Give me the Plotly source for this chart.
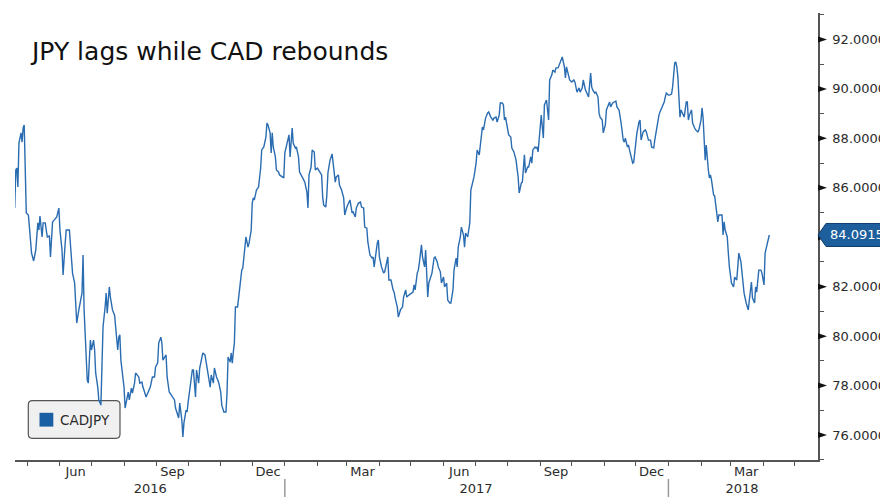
import plotly.graph_objects as go
import pandas as pd

title_text = "JPY lags while CAD rebounds"
series_name = "CADJPY"

dates = [
    "2016-04-19", "2016-04-20", "2016-04-21", "2016-04-22", "2016-04-23", "2016-04-25", "2016-04-26", "2016-04-27", "2016-04-28", "2016-04-30",
    "2016-05-02", "2016-05-04", "2016-05-05", "2016-05-06", "2016-05-07", "2016-05-09", "2016-05-11", "2016-05-12", "2016-05-13", "2016-05-15", "2016-05-16", "2016-05-18", "2016-05-20", "2016-05-22", "2016-05-23", "2016-05-25", "2016-05-27", "2016-05-29", "2016-05-31",
    "2016-06-01", "2016-06-03", "2016-06-04", "2016-06-06", "2016-06-07", "2016-06-10", "2016-06-11", "2016-06-13", "2016-06-15", "2016-06-17", "2016-06-19", "2016-06-21", "2016-06-22", "2016-06-23", "2016-06-24", "2016-06-27", "2016-06-28", "2016-06-29", "2016-06-30",
    "2016-07-01", "2016-07-03", "2016-07-04", "2016-07-05", "2016-07-07", "2016-07-08", "2016-07-10", "2016-07-11", "2016-07-12", "2016-07-14", "2016-07-15", "2016-07-16", "2016-07-18", "2016-07-19", "2016-07-21", "2016-07-23", "2016-07-24", "2016-07-26", "2016-07-27", "2016-07-28", "2016-07-29",
    "2016-08-01", "2016-08-02", "2016-08-04", "2016-08-05", "2016-08-06", "2016-08-08", "2016-08-09", "2016-08-11", "2016-08-12", "2016-08-15", "2016-08-16", "2016-08-18", "2016-08-19", "2016-08-22", "2016-08-24", "2016-08-26", "2016-08-28", "2016-08-30", "2016-08-31",
    "2016-09-02", "2016-09-03", "2016-09-05", "2016-09-06", "2016-09-07", "2016-09-10", "2016-09-11", "2016-09-13", "2016-09-15", "2016-09-18", "2016-09-19", "2016-09-22", "2016-09-23", "2016-09-25", "2016-09-26", "2016-09-27", "2016-09-29", "2016-09-30",
    "2016-10-01", "2016-10-03", "2016-10-05", "2016-10-06", "2016-10-08", "2016-10-09", "2016-10-11", "2016-10-12", "2016-10-14", "2016-10-15", "2016-10-17", "2016-10-19", "2016-10-20", "2016-10-22", "2016-10-23", "2016-10-25", "2016-10-26", "2016-10-28", "2016-10-30",
    "2016-11-01", "2016-11-02", "2016-11-04", "2016-11-06", "2016-11-07", "2016-11-08", "2016-11-10", "2016-11-11", "2016-11-12", "2016-11-13", "2016-11-14", "2016-11-15", "2016-11-17", "2016-11-18", "2016-11-20", "2016-11-21", "2016-11-22", "2016-11-24", "2016-11-25", "2016-11-27", "2016-11-28", "2016-11-30",
    "2016-12-01", "2016-12-02", "2016-12-03", "2016-12-04", "2016-12-05", "2016-12-07", "2016-12-09", "2016-12-10", "2016-12-12", "2016-12-14", "2016-12-15", "2016-12-16", "2016-12-18", "2016-12-19", "2016-12-20", "2016-12-21", "2016-12-23", "2016-12-24", "2016-12-26", "2016-12-27", "2016-12-29", "2016-12-31",
    "2017-01-01", "2017-01-03", "2017-01-05", "2017-01-06", "2017-01-07", "2017-01-08", "2017-01-09", "2017-01-11", "2017-01-12", "2017-01-14", "2017-01-15", "2017-01-17", "2017-01-18", "2017-01-20", "2017-01-22", "2017-01-23", "2017-01-24", "2017-01-26", "2017-01-27", "2017-01-29", "2017-01-30",
    "2017-02-01", "2017-02-03", "2017-02-05", "2017-02-06", "2017-02-07", "2017-02-09", "2017-02-10", "2017-02-11", "2017-02-13", "2017-02-15", "2017-02-16", "2017-02-18", "2017-02-19", "2017-02-21", "2017-02-22", "2017-02-24", "2017-02-26", "2017-02-27",
    "2017-03-01", "2017-03-03", "2017-03-04", "2017-03-06", "2017-03-07", "2017-03-09", "2017-03-10", "2017-03-12", "2017-03-14", "2017-03-15", "2017-03-17", "2017-03-18", "2017-03-20", "2017-03-21", "2017-03-23", "2017-03-25", "2017-03-26", "2017-03-27", "2017-03-29", "2017-03-30", "2017-03-31",
    "2017-04-01", "2017-04-03", "2017-04-05", "2017-04-06", "2017-04-08", "2017-04-09", "2017-04-10", "2017-04-12", "2017-04-14", "2017-04-15", "2017-04-16", "2017-04-18", "2017-04-19", "2017-04-21", "2017-04-23", "2017-04-24", "2017-04-26", "2017-04-27", "2017-04-29",
    "2017-05-01", "2017-05-03", "2017-05-04", "2017-05-05", "2017-05-07", "2017-05-08", "2017-05-09", "2017-05-11", "2017-05-12", "2017-05-14", "2017-05-15", "2017-05-17", "2017-05-18", "2017-05-20", "2017-05-21", "2017-05-23", "2017-05-24", "2017-05-26", "2017-05-27", "2017-05-29", "2017-05-30",
    "2017-06-01", "2017-06-02", "2017-06-04", "2017-06-05", "2017-06-07", "2017-06-08", "2017-06-10", "2017-06-11", "2017-06-13", "2017-06-14", "2017-06-15", "2017-06-17", "2017-06-18", "2017-06-20", "2017-06-21", "2017-06-22", "2017-06-24", "2017-06-26", "2017-06-27", "2017-06-29", "2017-06-30",
    "2017-07-02", "2017-07-03", "2017-07-05", "2017-07-07", "2017-07-08", "2017-07-09", "2017-07-11", "2017-07-13", "2017-07-14", "2017-07-16", "2017-07-18", "2017-07-19", "2017-07-21", "2017-07-22", "2017-07-24", "2017-07-25", "2017-07-27", "2017-07-28", "2017-07-29", "2017-07-30",
    "2017-08-01", "2017-08-02", "2017-08-04", "2017-08-05", "2017-08-07", "2017-08-08", "2017-08-09", "2017-08-11", "2017-08-12", "2017-08-14", "2017-08-15", "2017-08-17", "2017-08-18", "2017-08-20", "2017-08-21", "2017-08-23", "2017-08-24", "2017-08-25", "2017-08-27", "2017-08-28", "2017-08-29", "2017-08-30", "2017-08-31",
    "2017-09-02", "2017-09-03", "2017-09-04", "2017-09-05", "2017-09-07", "2017-09-09", "2017-09-10", "2017-09-12", "2017-09-13", "2017-09-15", "2017-09-16", "2017-09-18", "2017-09-20", "2017-09-22", "2017-09-24", "2017-09-25", "2017-09-26", "2017-09-28", "2017-09-29",
    "2017-10-01", "2017-10-03", "2017-10-04", "2017-10-06", "2017-10-08", "2017-10-09", "2017-10-11", "2017-10-12", "2017-10-14", "2017-10-16", "2017-10-17", "2017-10-19", "2017-10-20", "2017-10-21", "2017-10-23", "2017-10-24", "2017-10-26", "2017-10-27", "2017-10-28", "2017-10-30", "2017-10-31",
    "2017-11-02", "2017-11-03", "2017-11-06", "2017-11-07", "2017-11-09", "2017-11-10", "2017-11-12", "2017-11-13", "2017-11-15", "2017-11-17", "2017-11-19", "2017-11-20", "2017-11-21", "2017-11-23", "2017-11-24", "2017-11-25", "2017-11-27", "2017-11-28", "2017-11-29", "2017-11-30",
    "2017-12-02", "2017-12-04", "2017-12-05", "2017-12-06", "2017-12-08", "2017-12-10", "2017-12-11", "2017-12-13", "2017-12-15", "2017-12-16", "2017-12-18", "2017-12-19", "2017-12-21", "2017-12-23", "2017-12-24", "2017-12-26", "2017-12-28", "2017-12-29", "2017-12-30",
    "2018-01-01", "2018-01-02", "2018-01-04", "2018-01-05", "2018-01-07", "2018-01-08", "2018-01-09", "2018-01-10", "2018-01-11", "2018-01-12", "2018-01-13", "2018-01-15", "2018-01-16", "2018-01-18", "2018-01-19", "2018-01-20", "2018-01-21", "2018-01-23", "2018-01-24", "2018-01-26", "2018-01-27", "2018-01-29", "2018-01-30",
    "2018-02-01", "2018-02-02", "2018-02-03", "2018-02-05", "2018-02-06", "2018-02-07", "2018-02-08", "2018-02-09", "2018-02-10", "2018-02-11", "2018-02-13", "2018-02-14", "2018-02-16", "2018-02-17", "2018-02-18", "2018-02-21", "2018-02-22", "2018-02-23", "2018-02-24", "2018-02-26", "2018-02-27", "2018-02-28",
    "2018-03-02", "2018-03-04", "2018-03-05", "2018-03-07", "2018-03-08", "2018-03-09", "2018-03-11", "2018-03-13", "2018-03-14", "2018-03-16", "2018-03-18", "2018-03-19", "2018-03-21", "2018-03-22", "2018-03-24", "2018-03-25", "2018-03-26", "2018-03-28", "2018-03-30", "2018-03-31",
    "2018-04-02", "2018-04-03", "2018-04-04", "2018-04-06", "2018-04-07",
]

values = [
    85.18, 86.72, 86.80, 86.03, 87.81, 88.22, 87.85, 88.42, 88.54, 84.98,
    84.90, 83.61, 83.36, 83.20, 83.04, 83.48, 84.58, 84.29, 84.86, 84.01, 84.58, 84.58, 84.01, 84.05, 83.20, 84.62, 84.70, 84.82, 85.18,
    84.29, 83.48, 82.47, 83.77, 84.29, 84.29, 83.77, 82.55, 82.15, 80.53, 81.06, 81.46, 81.74, 83.28, 81.06, 78.22, 78.10, 79.03, 79.84,
    79.44, 79.84, 79.44, 78.51, 77.94, 77.42, 77.21, 78.91, 80.37, 81.18, 81.74, 80.93, 81.99, 81.58, 81.06, 80.85, 80.25, 79.44, 79.96, 80.05, 79.03,
    77.94, 77.09, 77.54, 77.74, 77.42, 77.90, 77.70, 78.10, 78.51, 78.35, 78.10, 78.14, 77.94, 77.54, 77.74, 77.94, 78.35, 78.35, 78.75,
    78.91, 79.72, 79.96, 79.72, 79.03, 79.24, 78.35, 77.74, 77.62, 77.42, 77.09, 76.69, 77.29, 76.61, 75.92, 76.49, 77.01, 76.93,
    77.33, 77.90, 78.63, 78.63, 77.54, 78.63, 78.10, 78.71, 79.16, 79.32, 79.24, 78.71, 78.35, 77.94, 78.43, 78.10, 78.71, 78.35, 78.14,
    77.74, 77.21, 76.93, 76.93, 77.70, 79.16, 78.95, 79.32, 78.91, 79.36, 79.72, 81.18, 81.18, 81.54, 82.27, 82.67, 82.75, 83.48, 84.01, 83.60, 83.77, 84.29,
    85.38, 85.59, 85.51, 85.71, 85.91, 86.03, 86.80, 87.53, 87.65, 88.05, 88.62, 88.54, 88.22, 87.41, 88.22, 87.65, 87.25, 86.72, 86.64, 86.52, 86.44, 86.40,
    87.41, 87.81, 88.14, 87.25, 88.01, 88.42, 87.81, 87.61, 87.65, 87.25, 86.64, 86.44, 86.40, 86.23, 85.83, 85.18, 86.52, 86.84, 87.53, 87.45, 86.72,
    86.80, 86.64, 86.52, 85.63, 85.30, 85.22, 85.71, 86.60, 87.12, 87.37, 87.00, 86.23, 86.44, 86.52, 86.11, 85.91, 85.59, 84.90,
    85.22, 85.42, 85.51, 84.98, 85.02, 84.82, 85.18, 85.38, 85.42, 85.22, 85.18, 84.41, 84.37, 83.81, 83.28, 83.16, 83.20, 82.80, 83.48, 83.77, 83.89,
    83.20, 82.80, 82.55, 82.60, 82.96, 83.20, 82.27, 82.27, 81.87, 81.78, 81.54, 81.18, 80.77, 81.06, 81.18, 81.58, 81.87, 81.58, 81.66,
    81.74, 81.78, 82.07, 81.87, 82.55, 82.67, 82.96, 83.69, 83.20, 82.80, 83.48, 81.58, 82.15, 82.39, 82.55, 83.16, 83.20, 83.00, 82.80, 82.60, 82.15,
    82.39, 81.99, 82.15, 81.46, 81.34, 81.34, 81.87, 82.67, 83.16, 82.80, 83.60, 84.01, 84.41, 84.09, 83.60, 84.17, 84.01, 84.58, 85.91, 86.23, 86.44,
    87.00, 87.53, 87.33, 88.01, 88.46, 88.34, 88.82, 89.03, 89.07, 88.86, 88.74, 88.82, 88.86, 88.66, 88.94, 89.43, 89.43, 89.35, 88.74, 88.86,
    88.26, 88.14, 88.05, 87.61, 87.45, 87.33, 87.12, 86.44, 85.79, 86.19, 86.23, 87.33, 86.60, 86.84, 86.84, 87.25, 87.00, 87.53, 87.65, 87.61, 87.65, 87.45, 88.01,
    88.94, 88.46, 88.01, 89.35, 89.55, 88.74, 90.36, 90.56, 90.76, 90.68, 90.85, 90.85, 91.05, 91.29, 90.89, 90.44, 90.89, 90.48, 90.36,
    90.28, 90.36, 90.28, 89.87, 90.04, 89.87, 90.04, 90.36, 89.96, 89.75, 89.67, 90.64, 90.08, 89.96, 89.83, 89.87, 89.67, 89.02, 88.86, 88.74, 88.22,
    88.54, 89.15, 89.47, 89.27, 89.43, 89.47, 89.51, 89.27, 89.15, 88.62, 87.93, 87.85, 88.01, 87.65, 87.73, 87.53, 87.12, 87.00, 87.04, 87.41,
    88.22, 88.66, 88.74, 87.93, 88.26, 88.34, 88.26, 87.93, 87.93, 87.65, 87.61, 87.93, 88.54, 88.94, 89.07, 89.27, 89.47, 89.67, 89.83,
    89.75, 89.75, 89.79, 90.08, 91.05, 91.09, 90.89, 90.48, 89.67, 88.86, 89.15, 88.94, 88.86, 89.47, 89.47, 88.74, 88.94, 89.15, 88.62, 88.42, 88.34, 88.26, 88.34,
    88.74, 89.23, 88.82, 87.12, 87.73, 87.04, 86.72, 86.40, 86.52, 86.31, 85.71, 85.67, 84.98, 84.62, 84.90, 84.90, 84.09, 84.62, 84.29, 84.01, 83.36, 82.80,
    82.15, 81.99, 82.39, 82.27, 82.80, 83.36, 83.00, 82.27, 81.74, 81.34, 81.06, 81.46, 82.19, 81.54, 81.34, 81.99, 81.78, 82.67, 82.67, 82.55,
    82.07, 83.36, 83.56, 83.89, 84.0915,
]

month_label_dates = ["2016-06-16", "2016-09-16", "2016-12-16", "2017-03-16",
                     "2017-06-16", "2017-09-16", "2017-12-16", "2018-03-16"]
month_labels = ["Jun", "Sep", "Dec", "Mar", "Jun", "Sep", "Dec", "Mar"]
year_label_dates = ["2016-08-26", "2017-07-02", "2018-03-12"]
year_labels = ["2016", "2017", "2018"]
year_breaks = ["2017-01-01", "2018-01-01"]
month_ticks = pd.date_range("2016-05-01", "2018-05-01", freq="MS")

x_range = ["2016-04-19 06:00", "2018-05-23 08:00"]
y_range = [74.99, 93.07]
y_major = [76, 78, 80, 82, 84, 86, 88, 90, 92]

line_color = "#2a6cb1"
axis_color = "#555555"
text_color = "#2b2b2b"
font_family = "DejaVu Sans"

last_value = values[-1]
# the last-value tag covers the tick label it sits on, so that label is left blank
y_tick_text = [f"{v:.4f}" if abs(v - last_value) > 0.6 else "" for v in y_major]

fig = go.Figure()
fig.add_trace(go.Scatter(
    x=dates, y=values, mode="lines", name=series_name,
    line=dict(color=line_color, width=1.4), showlegend=False, hoverinfo="skip",
))
# carrier traces so the label axes are drawn (nothing visible)
fig.add_trace(go.Scatter(x=month_label_dates, y=[None] * len(month_label_dates), xaxis="x2",
                         mode="markers", marker=dict(opacity=0), showlegend=False, hoverinfo="skip"))
fig.add_trace(go.Scatter(x=year_label_dates, y=[None] * len(year_label_dates), xaxis="x3",
                         mode="markers", marker=dict(opacity=0), showlegend=False, hoverinfo="skip"))

shapes = []
for v in y_major:
    shapes.append(dict(type="path", xref="paper", yref="y", xsizemode="pixel", ysizemode="pixel",
                       xanchor=1, yanchor=v, path="M0,3 L9,0 L0,-3 Z",
                       fillcolor="#111111", line=dict(width=0)))
for d in year_breaks:
    shapes.append(dict(type="line", xref="x", yref="paper", x0=d, x1=d, y0=-0.0425, y1=-0.085,
                       line=dict(color="#999999", width=1.5)))
shapes.append(dict(type="path", xref="paper", yref="y", xsizemode="pixel", ysizemode="pixel",
                   xanchor=1, yanchor=last_value,
                   path="M0,0 L8,11.5 L75,11.5 L75,-11.5 L8,-11.5 Z",
                   fillcolor="#1d5e9c", line=dict(color="#0e3d6b", width=1)))
shapes.append(dict(type="path", xref="paper", yref="paper", xsizemode="pixel", ysizemode="pixel",
                   xanchor=0, yanchor=0, layer="below",
                   path="M17.3,21.7 L101,21.7 Q105,21.7 105,25.7 L105,55.3 Q105,59.3 101,59.3 "
                        "L17.3,59.3 Q13.3,59.3 13.3,55.3 L13.3,25.7 Q13.3,21.7 17.3,21.7 Z",
                   fillcolor="#f0f0f0", line=dict(color="#555555", width=1.2)))
shapes.append(dict(type="rect", xref="paper", yref="paper", xsizemode="pixel", ysizemode="pixel",
                   xanchor=0, yanchor=0, x0=24.5, x1=38.3, y0=33.4, y1=47.2, layer="below",
                   fillcolor="#1a5fa3", line=dict(width=0)))

annotations = [
    dict(text=title_text, xref="paper", yref="paper", x=0.0205, y=0.913, xanchor="left", yanchor="middle",
         xshift=-3, showarrow=False, font=dict(family=font_family, size=25, color="#111111")),
    dict(text=f"{last_value:.4f}", xref="paper", yref="y", x=1, y=last_value, xanchor="left", yanchor="middle",
         xshift=10, showarrow=False, font=dict(family=font_family, size=13, color="#ffffff")),
    dict(text=series_name, xref="paper", yref="paper", x=0.0539, y=0.0906, xanchor="left", yanchor="middle",
         showarrow=False, font=dict(family=font_family, size=13.5, color=text_color)),
]

# the page puts the figure 8px from the top-left corner, so the figure is 8px smaller
fig.update_layout(
    width=880, height=489,
    margin=dict(l=7, r=70, t=5, b=37, autoexpand=False),
    paper_bgcolor="white", plot_bgcolor="white",
    font=dict(family=font_family, size=13, color=text_color),
    showlegend=False,
    xaxis=dict(type="date", range=x_range, tickmode="array", tickvals=month_ticks,
               ticks="outside", ticklen=4, tickwidth=1, tickcolor=axis_color, automargin=False,
               showticklabels=False, showline=True, linecolor=axis_color, linewidth=1.5,
               showgrid=False, zeroline=False),
    xaxis2=dict(type="date", overlaying="x", anchor="y", side="bottom", range=x_range,
                tickmode="array", tickvals=month_label_dates, ticktext=month_labels, automargin=False,
                ticks="", showline=False, showgrid=False, zeroline=False, ticklabelstandoff=2,
                tickfont=dict(family=font_family, size=13, color=text_color)),
    xaxis3=dict(type="date", overlaying="x", anchor="y", side="bottom", range=x_range,
                tickmode="array", tickvals=year_label_dates, ticktext=year_labels, automargin=False,
                ticks="", showline=False, showgrid=False, zeroline=False, ticklabelstandoff=19,
                tickfont=dict(family=font_family, size=13, color=text_color)),
    yaxis=dict(side="right", range=y_range, tickmode="array", tickvals=y_major, ticktext=y_tick_text,
               ticks="outside", ticklen=10, tickcolor="rgba(0,0,0,0)", automargin=False,
               minor=dict(ticks="outside", ticklen=4, tickwidth=1, tickcolor=axis_color, dtick=1, tick0=75,
                          showgrid=False),
               showline=True, linecolor=axis_color, linewidth=1.5, showgrid=False, zeroline=False,
               tickfont=dict(family=font_family, size=13, color=text_color)),
    shapes=shapes,
    annotations=annotations,
)

fig.write_html("out.html")
